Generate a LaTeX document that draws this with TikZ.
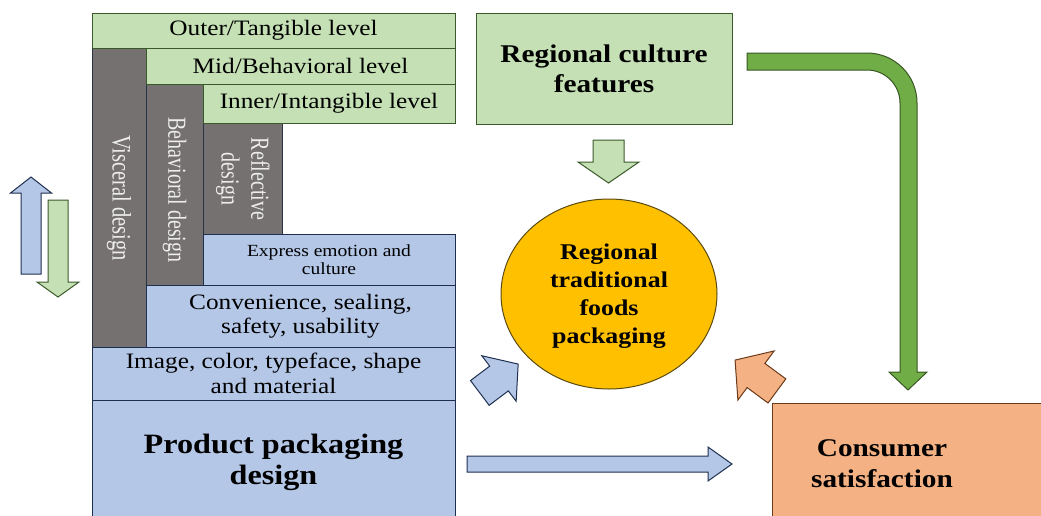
\documentclass[tikz,border=0pt]{standalone}
\usepackage{fontspec}
\setmainfont{Liberation Serif}[FakeStretch=1.15]
\newfontfamily\vfont{Liberation Serif}
\usetikzlibrary{shapes.geometric}
\definecolor{lgreen}{HTML}{C5E0B4}
\definecolor{lgborder}{HTML}{3B5A2A}
\definecolor{lblue}{HTML}{B4C7E7}
\definecolor{bborder}{HTML}{1F2F4F}
\definecolor{dgray}{HTML}{767171}
\definecolor{gborder}{HTML}{2A3345}
\definecolor{grtext}{HTML}{EDEDED}
\definecolor{gold}{HTML}{FFC000}
\definecolor{goldborder}{HTML}{5A4A10}
\definecolor{lorange}{HTML}{F4B183}
\definecolor{oborder}{HTML}{6B3A1A}
\definecolor{mgreen}{HTML}{70AD47}
\definecolor{mgborder}{HTML}{385723}
\tikzset{
  lvl/.style={draw=lgborder, fill=lgreen, line width=1pt, inner sep=0pt, align=center, font=\fontsize{22}{24}\selectfont},
  gbar/.style={draw=gborder, fill=dgray, line width=1pt, inner sep=0pt},
  vtext/.style={rotate=-90, inner sep=0pt, text=grtext, align=center},
  bbox/.style={draw=bborder, fill=lblue, line width=1pt, inner sep=0pt, align=center},
  bigtext/.style={align=center, inner sep=0pt, font=\bfseries\fontsize{25.5}{31}\selectfont},
  barrow/.style={draw=bborder, fill=lblue, line width=1pt, line join=miter},
  garrow/.style={draw=lgborder, fill=lgreen, line width=1pt, line join=miter},
  oarrow/.style={draw=oborder, fill=lorange, line width=1pt, line join=miter}
}
% #1 style, #2 x, #3 y, #4 angle, #5 total length, #6 shaft half width, #7 head half width, #8 head length
\newcommand{\fatarrow}[8]{%
  \begin{scope}[shift={(#2,#3)}, rotate=#4]
  \draw[#1] ({-(#5)/2},{-(#6)}) -- ({(#5)/2-(#8)},{-(#6)}) -- ({(#5)/2-(#8)},{-(#7)})
    -- ({(#5)/2},0) -- ({(#5)/2-(#8)},{#7}) -- ({(#5)/2-(#8)},{#6}) -- ({-(#5)/2},{#6}) -- cycle;
  \end{scope}}
\begin{document}
\begin{tikzpicture}[x=1pt,y=-1pt]
\useasboundingbox (0,0) rectangle (1041,515);
\clip (0,0) rectangle (1041,515);
% left stack
\node[bbox, minimum width=363, minimum height=125, font=\bfseries\fontsize{28}{31}\selectfont] (prod) at (273.5,462.5) {Product packaging\\design};
\node[gbar, minimum width=54, minimum height=299] (visc) at (119,197.5) {};
\node[gbar, minimum width=57, minimum height=201] (behav) at (174.5,184.5) {};
\node[gbar, minimum width=79, minimum height=111] (refl) at (242.5,178.5) {};
\node[lvl, minimum width=363, minimum height=35] (outer) at (273.5,30.5) {Outer/Tangible level};
\node[lvl, minimum width=309, minimum height=36] (mid) at (300.5,66) {Mid/Behavioral level};
\node[lvl, minimum width=252, minimum height=39] (inner) at (329,103.5) {Inner/Intangible level};
\node[bbox, minimum width=252, minimum height=51, font=\fontsize{17}{18.5}\selectfont] (expr) at (329,259.5) {Express emotion and\\culture};
\node[bbox, minimum width=309, minimum height=62, font=\fontsize{22}{24}\selectfont] (conv) at (300.5,316) {Convenience, sealing,\\safety, usability};
\node[bbox, minimum width=363, minimum height=53, font=\fontsize{22}{25}\selectfont] (img) at (273.5,373.5) {Image, color, typeface, shape\\and material};
\node[vtext] (visct) at (119,198) {\vfont\fontsize{20.5}{25}\selectfont\scalebox{1}[1.3]{Visceral design}};
\node[vtext] (behavt) at (174.5,190) {\vfont\fontsize{20}{25}\selectfont\scalebox{1}[1.3]{Behavioral design}};
\node[vtext] (reflt) at (242.5,179) {\vfont\fontsize{20}{23}\selectfont\scalebox{1}[1.3]{\begin{tabular}{@{}c@{}}Reflective\\design\end{tabular}}};
% left arrows
\fatarrow{barrow}{31}{225.5}{90}{97}{10}{20.5}{16}
\fatarrow{garrow}{58}{248.5}{-90}{97}{10}{21}{15}
% right part
\node[lvl, minimum width=256, minimum height=111, font=\bfseries\fontsize{25.5}{30}\selectfont] (reg) at (604,68.5) {Regional culture\\features};
\fatarrow{garrow}{608.5}{161.5}{-90}{43}{15.5}{30.5}{21}
\node[ellipse, draw=goldborder, fill=gold, line width=1pt, minimum width=216, minimum height=190, inner sep=0pt] (ell) at (609,294) {};
\node[align=center, inner sep=0pt, font=\bfseries\fontsize{22.5}{28}\selectfont] (ellt) at (609,296) {Regional\\traditional\\foods\\packaging};
\fatarrow{barrow}{499}{378.5}{37}{48}{15.5}{28.5}{24}
\fatarrow{oarrow}{756}{375.5}{143.6}{52}{15}{30.5}{26}
\fatarrow{barrow}{599.5}{464}{0}{265}{8}{17}{24}
\node[draw=oborder, fill=lorange, line width=1pt, anchor=north west, minimum width=290, minimum height=130, inner sep=0pt] (cons) at (772,403) {};
\node[bigtext] (const) at (882,464) {Consumer\\satisfaction};
% bent arrow
\draw[draw=mgborder, fill=mgreen, line width=1pt, line join=miter]
  (747,53) -- (867,53) arc[start angle=-90, end angle=0, radius=50]
  -- (917,372) -- (927,372) -- (908,390) -- (889,372) -- (900,372)
  -- (900,103) arc[start angle=0, end angle=-90, radius=33]
  -- (747,70) -- cycle;
\end{tikzpicture}
\end{document}
